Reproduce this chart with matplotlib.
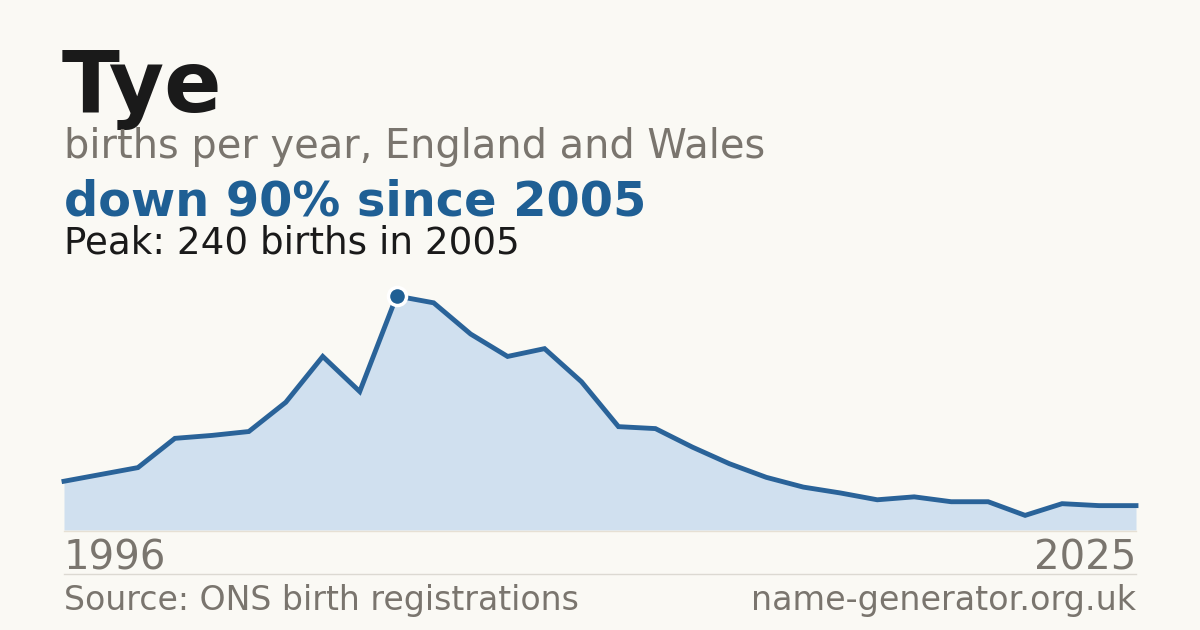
import matplotlib
matplotlib.use("Agg")
import matplotlib.pyplot as plt

plt.rcParams["font.family"] = ["DejaVu Sans"]

years = list(range(1996, 2026))
births = [50, 57, 64, 94, 97, 101, 131, 178, 142, 240,
          233, 201, 178, 186, 152, 106, 104, 85, 68, 54,
          44, 38, 31, 34, 29, 29, 15, 27, 25, 25]
peak_year = 2005
peak_value = 240

title = "Tye"
subtitle = "births per year, England and Wales"
headline = "down 90% since 2005"
peak_text = "Peak: 240 births in 2005"
source_text = "Source: ONS birth registrations"
site_text = "name-generator.org.uk"

BG = "#faf9f4"
LINE = "#2a6399"
FILL = "#d0e0ef"
GREY = "#7a756e"
DARK = "#1a1a1a"
BLUE = "#1f5f94"

W, H = 1200, 630
fig = plt.figure(figsize=(12, 6.3), dpi=100, facecolor=BG)

def fx(px):
    return px / W

def fy(py):
    return 1 - py / H

left, right = 64, 1136
base, top = 530, 296
ax = fig.add_axes([fx(left), fy(base), fx(right) - fx(left), (base - top) / H])
ax.set_facecolor("none")
ax.fill_between(years, births, 0, color=FILL, linewidth=0)
ax.plot(years, births, color=LINE, linewidth=3.5, solid_joinstyle="miter", clip_on=False)
ax.plot([peak_year], [peak_value], marker="o", markersize=13, color=BLUE,
        markeredgecolor="white", markeredgewidth=2.5, clip_on=False, zorder=5)
ax.set_xlim(years[0], years[-1])
ax.set_ylim(0, peak_value)
ax.axis("off")

# baseline
fig.add_artist(plt.Line2D([fx(left), fx(right)], [fy(530.5), fy(530.5)], color="#e6e0d4", linewidth=1))
# separator
fig.add_artist(plt.Line2D([fx(left), fx(right)], [fy(574), fy(574)], color="#dcd9d2", linewidth=1))

fig.text(fx(62), fy(112), title, fontsize=61, fontweight="bold", color=DARK, va="baseline", ha="left")
fig.text(fx(64), fy(158), subtitle, fontsize=28.7, color=GREY, va="baseline", ha="left")
fig.text(fx(64), fy(215), headline, fontsize=34.5, fontweight="bold", color=BLUE, va="baseline", ha="left")
fig.text(fx(64), fy(253), peak_text, fontsize=26.8, color=DARK, va="baseline", ha="left")

fig.text(fx(64), fy(570), str(years[0]), fontsize=29, color=GREY, va="baseline", ha="left")
fig.text(fx(1136), fy(570), str(years[-1]), fontsize=29, color=GREY, va="baseline", ha="right")

fig.text(fx(64), fy(610), source_text, fontsize=23.9, color=GREY, va="baseline", ha="left")
fig.text(fx(1136), fy(610), site_text, fontsize=24, color=GREY, va="baseline", ha="right")

fig.savefig("out.png", dpi=100, facecolor=BG)
